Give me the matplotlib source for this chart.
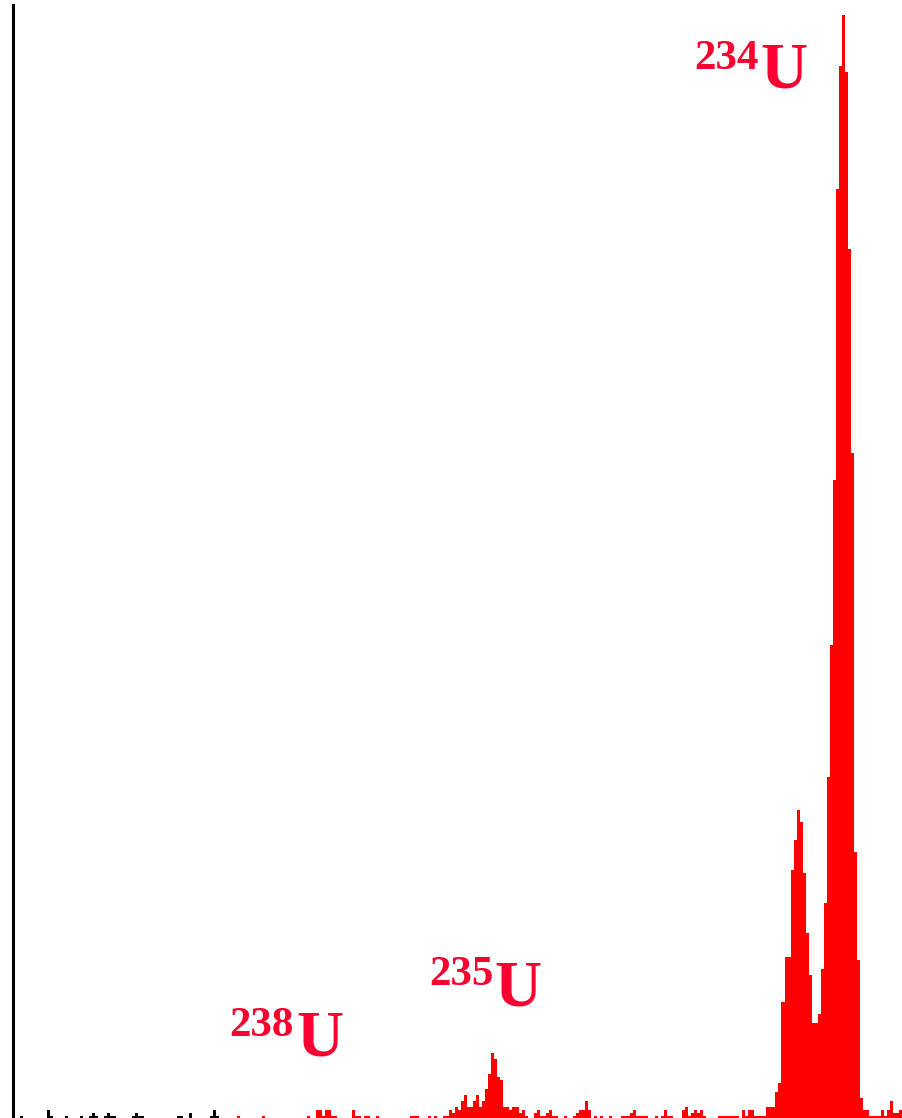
import numpy as np
import matplotlib
matplotlib.use("Agg")
import matplotlib.pyplot as plt

# Channel numbering: one histogram bin per channel
first_red_channel = 75

# Low-energy channels (drawn in black)
black_channels = [3, 12, 13, 18, 23, 26, 27, 28, 31, 32, 33, 34, 40, 41, 42, 43, 55, 56, 59, 66, 67, 68]
black_counts = [1, 3, 1, 1, 1, 1, 2, 1, 1, 2, 1, 1, 1, 2, 1, 1, 1, 1, 2, 1, 3, 1]

# Counts per channel from channel 75 to 295 (drawn in red)
red_counts = [
    1, 0, 0, 0, 0, 0, 0, 0, 1, 0, 0, 0, 0, 0, 0, 0, 0, 0, 0, 0,   # 75-94
    0, 0, 0, 1, 0, 0, 3, 3, 1, 3, 3, 1, 1, 0, 0, 0, 0, 0, 3, 1,   # 95-114
    1, 0, 1, 1, 0, 0, 1, 0, 0, 0, 0, 0, 0, 0, 0, 0, 0, 1, 1, 1,   # 115-134
    0, 0, 0, 1, 0, 1, 0, 0, 1,                                    # 135-143
    1, 3, 2, 4, 3, 6, 8, 4, 4, 6, 8, 4, 6, 10, 15, 22, 20, 14,   # 144-161
    13, 4, 4, 3, 4, 4, 2, 3, 1,                                   # 162-170
    0, 0, 2, 3, 1, 1, 2, 3, 1, 1, 0, 0, 1, 0, 0, 1, 2, 3, 3, 6,   # 171-190
    3, 0, 1, 0, 1, 0, 0, 1, 0, 0, 0, 1, 1, 1, 2, 3, 1, 1, 1, 1,   # 191-210
    0, 0, 1, 0, 1, 3, 1, 1, 0, 0, 0, 3, 4, 1, 2, 3, 2, 3, 1, 0,   # 211-230
    0, 0, 0, 1, 1, 1, 1, 1, 1, 1, 0, 3, 1, 3, 3, 1, 1, 1, 1,      # 231-249
    4, 4, 4, 9, 12, 39, 54, 54, 83, 93, 103, 99, 82, 62, 48,     # 250-264
    32, 32, 35, 50, 72, 114, 158, 213, 310, 351, 368, 349, 290,  # 265-277
    222, 89, 53, 7, 3, 3, 1, 1, 1, 1, 3, 1, 3, 6, 2, 2, 3, 3,    # 278-295
]

# Isotope labels: (mass number, label anchor in figure pixels)
isotopes = ["238", "235", "234"]

W, H = 903, 1118
fig = plt.figure(figsize=(W / 100, H / 100), dpi=100)
fig.patch.set_facecolor("white")

left_px, top_px, bottom_px = 13.5, 5.5, 1118.7
ax = fig.add_axes([left_px / W, (H - bottom_px) / H,
                   (W - left_px) / W, (bottom_px - top_px) / H])

red_channels = np.arange(first_red_channel, first_red_channel + len(red_counts))
red_counts = np.asarray(red_counts)
mask = red_counts > 0
ax.bar(red_channels[mask], red_counts[mask], width=1.0, align="edge",
       color="#ff0000", linewidth=0, antialiased=False)
ax.bar(black_channels, black_counts, width=1.0, align="edge",
       color="black", linewidth=0, antialiased=False)

ax.set_xlim(0.93, 295.2)
ax.set_ylim(0, 371)
for side in ("top", "right", "bottom"):
    ax.spines[side].set_visible(False)
ax.spines["left"].set_linewidth(2.2)
ax.set_xticks([])
ax.set_yticks([])
ax.patch.set_alpha(0)

label_color = "#fa0030"
serif = ["Liberation Serif", "DejaVu Serif"]
# (digits left x, digits baseline y, U left x, U baseline y) in pixels
label_pos = {
    "238": (229, 1036, 296, 1056),
    "235": (429, 985, 494, 1005),
    "234": (694, 69, 760, 88),
}
for iso in isotopes:
    dx, dy, ux, uy = label_pos[iso]
    fig.text(dx / W, 1 - dy / H, iso, fontsize=31, fontweight="bold",
             family=serif, color=label_color, ha="left", va="baseline")
    fig.text(ux / W, 1 - uy / H, "U", fontsize=47, fontweight="bold",
             family=serif, color=label_color, ha="left", va="baseline")

fig.savefig("out.png", dpi=100, facecolor="white")
